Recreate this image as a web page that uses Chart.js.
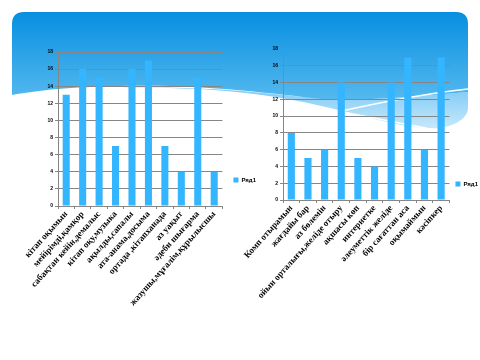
<!DOCTYPE html>
<html><head><meta charset="utf-8">
<script src="https://cdn.jsdelivr.net/npm/chart.js@4"></script>
<style>
html,body{margin:0;padding:0;width:480px;height:360px;overflow:hidden;background:#fff;}
#bg{position:absolute;left:0;top:0;}
.c{position:absolute;}
</style></head><body>
<svg id="bg" width="480" height="360">
<defs>
<linearGradient id="g1" x1="0" y1="0" x2="0" y2="1">
<stop offset="0" stop-color="#078fe0"/><stop offset="1" stop-color="#55b9ef"/>
</linearGradient>
<linearGradient id="g2" x1="0" y1="0" x2="0" y2="1">
<stop offset="0" stop-color="#7fcaf5"/><stop offset="1" stop-color="#c6e8fb"/>
</linearGradient>
</defs>
<path d="M120,88 C220,86 280,96 330,108 C380,120 410,130 440,128 C455,126 468,118 468,108 L468,92 C420,96 380,100 330,100 C260,92 200,86 120,88 Z" fill="url(#g2)"/>
<path d="M12,24 Q12,12 24,12 L456,12 Q468,12 468,24 L468,92 C420,96 380,100 330,100 C260,92 200,84 120,86 C70,87 40,90 12,95 Z" fill="url(#g1)"/>
<path d="M140,89 C240,88 330,110 440,131" stroke="#fff" stroke-width="1.5" fill="none"/>
<path d="M290,123 C360,106 420,94 468,89" stroke="#fff" stroke-width="1.5" fill="none"/>
</svg>
<div class="c" style="left:0;top:40px;"><canvas id="c1" width="266" height="280"></canvas></div>
<div class="c" style="left:240px;top:40px;"><canvas id="c2" width="248" height="288"></canvas></div>
<script>
const seriesName = "Ряд1";
const yTicks = [0,2,4,6,8,10,12,14,16,18];
const categories1 = ["кітап оқымын","мейірімді,қамқор","сабақтан кейін,демалыс","кітап оқу,музыка","ақылды,сапалы","ата-анама,досыма","ортада ,кітапханада","аз уақыт","әдеби шығарма","жазушы,мұғалім,құрылысшы"];
const values1 = [13,16,15,7,16,17,7,4,15,4];
const categories2 = ["Комп отырамын","жағдайы бар","аз бөлемін","ойын орталығы,желіде отыру","ақшасы көп","интернетке","әлеуметтік желіде","бір сағаттан аса","оқымаймын","кәсіпкер"];
const values2 = [8,5,6,14,5,4,14,17,6,17];

const barColor = "#33b6ff";
const gridColor = "#868686";

function makeChart(id, labels, values, pad, xHeight, yWidth, legPad){
  return new Chart(document.getElementById(id), {
    type: 'bar',
    data: { labels: labels, datasets: [{ label: seriesName, data: values, backgroundColor: barColor, borderWidth: 0, barPercentage: 0.43, categoryPercentage: 1 }] },
    options: {
      responsive: false, animation: false, devicePixelRatio: 1,
      layout: { padding: pad },
      plugins: {
        legend: { position: 'right', labels: { boxWidth: 5, boxHeight: 5, padding: legPad, color: '#000', font: { size: 6, family: 'Liberation Sans', weight: 'bold' } } },
        tooltip: { enabled: false }
      },
      scales: {
        x: {
          afterFit: s => { s.height = xHeight; },
          grid: { drawOnChartArea: false, drawTicks: true, tickLength: 3, color: gridColor, offset: true },
          border: { color: gridColor, width: 1 },
          ticks: { autoSkip: false, minRotation: 48, maxRotation: 48, padding: 0, color: '#000', font: { family: 'Liberation Serif', weight: 'bold', size: 9 } }
        },
        y: {
          min: 0, max: 18,
          afterFit: s => { s.width = yWidth; },
          afterBuildTicks: s => { s.ticks = yTicks.map(v => ({ value: v })); },
          grid: { color: gridColor, tickLength: 3, lineWidth: 1 },
          border: { color: gridColor, width: 1 },
          ticks: { color: '#000', padding: 2, font: { size: 5, family: 'Liberation Sans', weight: 'bold' } }
        }
      }
    }
  });
}
makeChart('c1', categories1, values1, { left: 38, top: 12, right: 0, bottom: 12 }, 102, 20, 11);
makeChart('c2', categories2, values2, { left: 23, top: 9, right: 0, bottom: 9 }, 119, 20, 6);
</script>
</body></html>
